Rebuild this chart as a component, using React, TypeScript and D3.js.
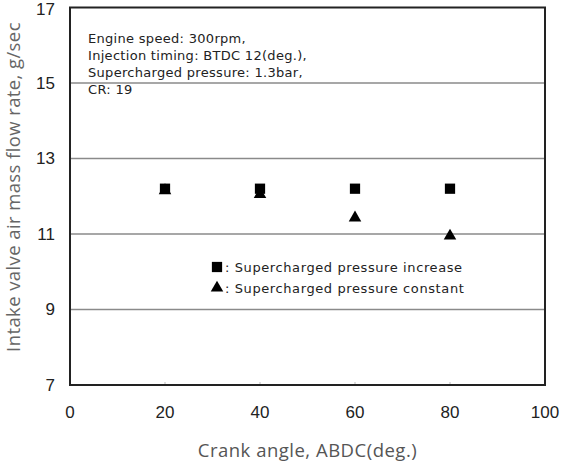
import React from 'react';
import * as d3 from 'd3';

const crankAngles = [20, 40, 60, 80];
const pressureIncrease = [12.2, 12.2, 12.2, 12.2];
const pressureConstant = [12.15, 12.05, 11.43, 10.95];
const xTicks = [0, 20, 40, 60, 80, 100];
const yTicks = [7, 9, 11, 13, 15, 17];
const notes = [
  'Engine speed: 300rpm,',
  'Injection timing: BTDC 12(deg.),',
  'Supercharged pressure: 1.3bar,',
  'CR: 19',
];
const legendLabels = [
  ': Supercharged pressure increase',
  ': Supercharged pressure constant',
];

export default function App() {
  const width = 562, height = 464;
  const margin = { top: 7.5, right: 17, bottom: 79, left: 70 };
  const x = d3.scaleLinear().domain([0, 100]).range([margin.left, width - margin.right]);
  const y = d3.scaleLinear().domain([7, 17]).range([height - margin.bottom, margin.top]);

  const square = d3.symbol(d3.symbolSquare, 105)();
  const triangle = d3.symbol(d3.symbolTriangle, 68)();
  const tickFont = 'Arial, "Liberation Sans", sans-serif';
  const titleFont = '"Open Sans", sans-serif';
  const noteFont = '"DejaVu Sans", sans-serif';

  return (
    <svg width={width} height={height} style={{ position: 'absolute', left: 0, top: 0 }}>
      <rect width={width} height={height} fill="#fff" />
      {/* grid lines */}
      {yTicks.slice(1, -1).map(t => (
        <line key={t} x1={x(0)} x2={x(100)} y1={y(t)} y2={y(t)} stroke="#8a8a8a" strokeWidth={1.5} />
      ))}
      {/* small x ticks */}
      {xTicks.slice(1, -1).map(t => (
        <line key={t} x1={x(t)} x2={x(t)} y1={y(7)} y2={y(7) - 3} stroke="#bbb" strokeWidth={1} />
      ))}
      <rect x={x(0)} y={y(17)} width={x(100) - x(0)} height={y(7) - y(17)} fill="none" stroke="#222" strokeWidth={2} />

      {/* tick labels */}
      {yTicks.map(t => (
        <text key={t} x={55} y={Math.max(y(t), 9)} dy="0.35em" textAnchor="end" fontFamily={tickFont} fontSize={17} fill="#222">{t}</text>
      ))}
      {xTicks.map(t => (
        <text key={t} x={x(t)} y={412} dy="0.35em" textAnchor="middle" fontFamily={tickFont} fontSize={17} fill="#222">{t}</text>
      ))}

      {/* axis titles */}
      <text x={(x(0) + x(100)) / 2} y={451} dy="0.35em" textAnchor="middle" fontFamily={titleFont} fontSize={18.5} letterSpacing={0.5} fill="#555">Crank angle, ABDC(deg.)</text>
      <text transform={`translate(14,187) rotate(-90)`} dy="0.35em" textAnchor="middle" fontFamily={titleFont} fontSize={18.5} letterSpacing={0.4} fill="#666">Intake valve air mass flow rate, g/sec</text>

      {/* annotation */}
      {notes.map((n, i) => (
        <text key={n} x={88} y={38 + i * 17.3} dy="0.35em" fontFamily={noteFont} fontSize={13} letterSpacing={0.3} fill="#222">{n}</text>
      ))}

      {/* data */}
      {crankAngles.map((a, i) => (
        <path key={'t' + a} d={triangle} transform={`translate(${x(a)},${y(pressureConstant[i])})`} fill="#000" />
      ))}
      {crankAngles.map((a, i) => (
        <path key={'s' + a} d={square} transform={`translate(${x(a)},${y(pressureIncrease[i])})`} fill="#000" />
      ))}

      {/* legend */}
      <path d={square} transform="translate(217,267)" fill="#000" />
      <path d={triangle} transform="translate(217,288)" fill="#000" />
      {legendLabels.map((l, i) => (
        <text key={l} x={225} y={267 + i * 21} dy="0.35em" fontFamily={noteFont} fontSize={13} letterSpacing={0.6} fill="#222">{l}</text>
      ))}
    </svg>
  );
}
